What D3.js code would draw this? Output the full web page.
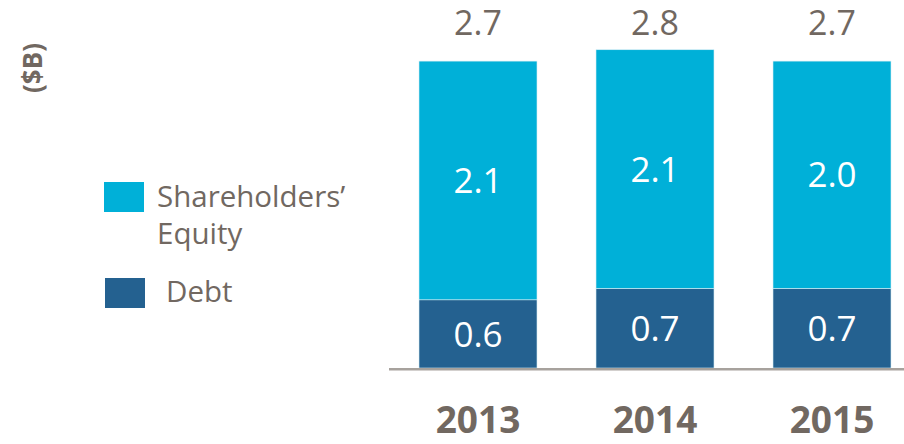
<!DOCTYPE html>
<meta charset="utf-8">
<body style="margin:0;background:#fff">
<script src="https://d3js.org/d3.v7.min.js"></script>
<script>

// data
var years = ["2013", "2014", "2015"];
var debt = [0.6, 0.7, 0.7];
var equity = [2.1, 2.1, 2.0];
var totals = [2.7, 2.8, 2.7];
var seriesNames = ["Shareholders’ Equity", "Debt"];

var W = 904, H = 444;
var textColor = "#716861";
var colors = {debt: "#246190", equity: "#00B0D8"};

var svg = d3.select("body").append("svg")
    .attr("width", W)
    .attr("height", H)
    .style("font-family", "'Open Sans', sans-serif");

var rows = years.map(function(y, i) {
  return {year: y, debt: debt[i], equity: equity[i], total: totals[i]};
});

// scales
var x = d3.scaleBand()
    .domain(years)
    .range([419, 891])
    .paddingInner(1/3)
    .paddingOuter(0);

var y = d3.scaleLinear()
    .domain([0, 3])
    .range([368, 27]);

var stack = d3.stack().keys(["debt", "equity"]);
var series = stack(rows);

// bars
svg.selectAll(".serie")
    .data(series)
  .enter().append("g")
    .attr("class", "serie")
    .attr("fill", function(d) { return colors[d.key]; })
  .selectAll("rect")
    .data(function(d) { return d; })
  .enter().append("rect")
    .attr("x", function(d) { return x(d.data.year); })
    .attr("y", function(d) { return y(d[1]); })
    .attr("height", function(d) { return y(d[0]) - y(d[1]); })
    .attr("width", x.bandwidth())
    .attr("stroke", "#d8eef5")
    .attr("stroke-width", 0.6);

// segment labels
var fs = 35;
series.forEach(function(s) {
  svg.selectAll(".lab-" + s.key)
      .data(s)
    .enter().append("text")
      .attr("x", function(d) { return x(d.data.year) + x.bandwidth() / 2; })
      .attr("y", function(d) { return (y(d[0]) + y(d[1])) / 2 + fs * 0.36; })
      .attr("text-anchor", "middle")
      .attr("fill", "#fff")
      .style("font-size", fs + "px")
      .text(function(d) { return d3.format(".1f")(d[1] - d[0]); });
});

// totals
svg.selectAll(".total")
    .data(rows)
  .enter().append("text")
    .attr("class", "total")
    .attr("x", function(d) { return x(d.year) + x.bandwidth() / 2; })
    .attr("y", y(3) + 8)
    .attr("text-anchor", "middle")
    .attr("fill", textColor)
    .style("font-size", "34px")
    .text(function(d) { return d3.format(".1f")(d.total); });

// baseline
svg.append("line")
    .attr("x1", 389).attr("x2", W)
    .attr("y1", y(0) + 1.2).attr("y2", y(0) + 1.2)
    .attr("stroke", "#a7a29d")
    .attr("stroke-width", 2.5);

// year labels
svg.selectAll(".year")
    .data(years)
  .enter().append("text")
    .attr("x", function(d) { return x(d) + x.bandwidth() / 2; })
    .attr("y", 433)
    .attr("text-anchor", "middle")
    .attr("fill", textColor)
    .style("font-size", "37px")
    .style("font-weight", "bold")
    .text(function(d) { return d; });

// unit label
svg.append("text")
    .attr("transform", "translate(42,68) rotate(-90)")
    .attr("text-anchor", "middle")
    .attr("fill", textColor)
    .style("font-size", "26px")
    .style("font-weight", "bold")
    .text("($B)");

// legend
var leg = svg.append("g").style("font-size", "29.5px").attr("fill", textColor);
leg.append("rect").attr("x", 104).attr("y", 182).attr("width", 40).attr("height", 30)
    .attr("fill", colors.equity);
var t = leg.append("text").attr("x", 157).attr("y", 207);
t.append("tspan").attr("x", 157).text(seriesNames[0].split(" ")[0]);
t.append("tspan").attr("x", 157).attr("dy", 37).text(seriesNames[0].split(" ")[1]);
leg.append("rect").attr("x", 105).attr("y", 278).attr("width", 40).attr("height", 30)
    .attr("fill", colors.debt);
leg.append("text").attr("x", 166).attr("y", 302).text(seriesNames[1]);

</script>
</body>
